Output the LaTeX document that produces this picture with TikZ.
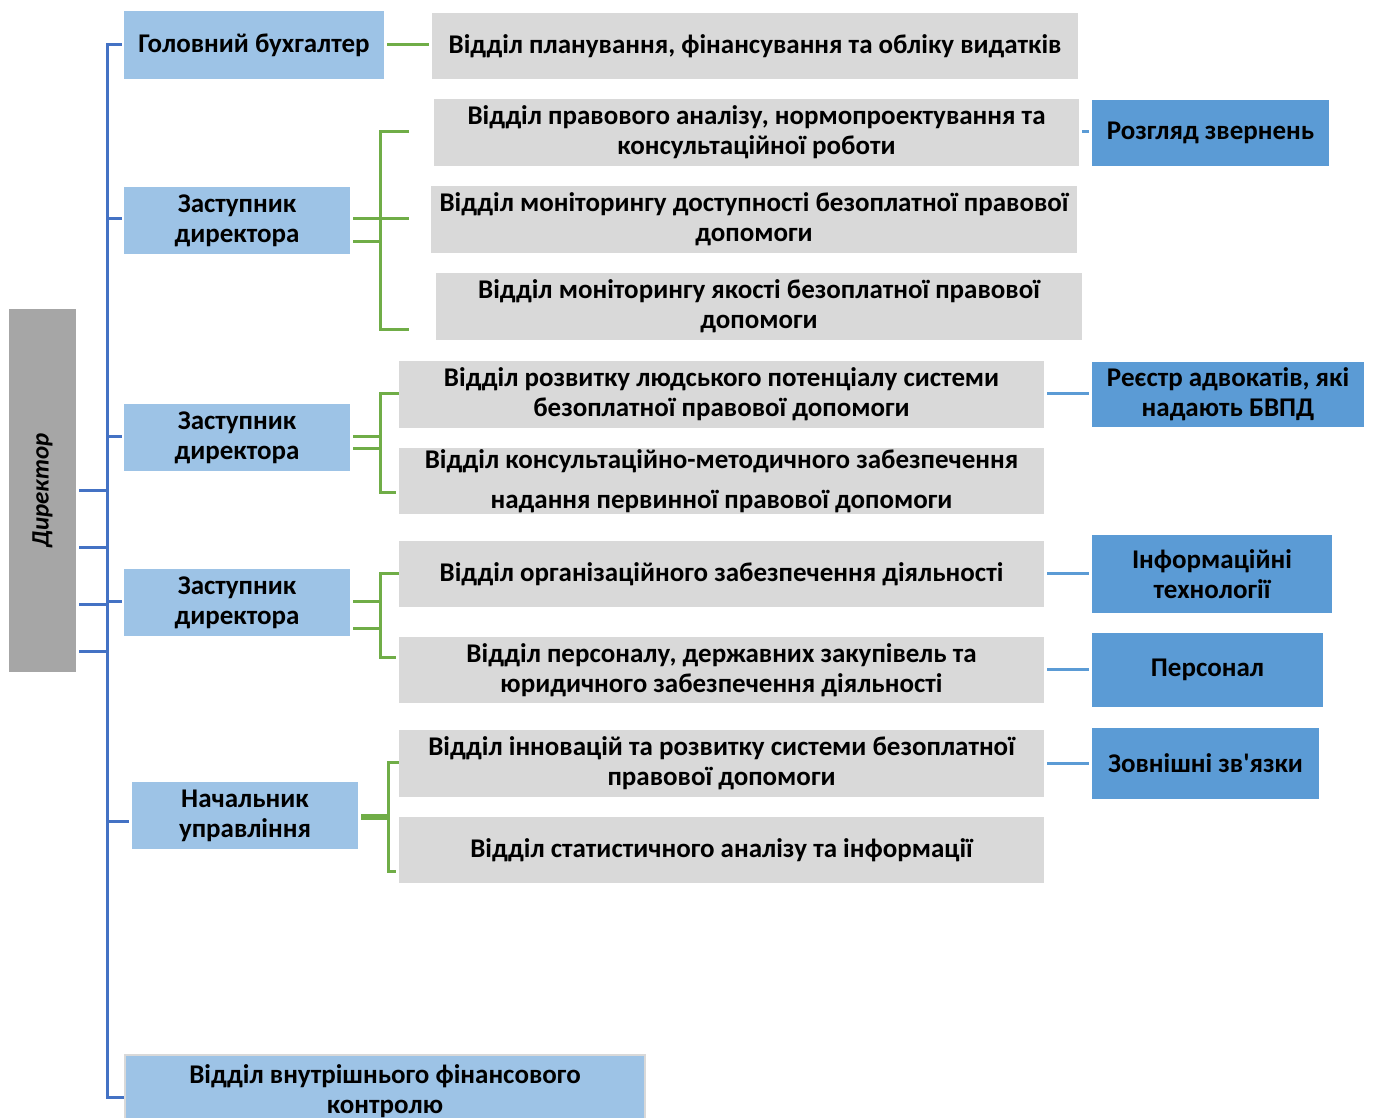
\documentclass[tikz,border=0pt]{standalone}
\usepackage{fontspec}
\setmainfont{Carlito}
\definecolor{trunkblue}{HTML}{4472C4}
\definecolor{grn}{HTML}{70AD47}
\definecolor{lblue}{HTML}{9DC3E6}
\definecolor{mblue}{HTML}{5B9BD5}
\definecolor{lgray}{HTML}{D9D9D9}
\definecolor{dgray}{HTML}{A6A6A6}
\begin{document}
\begin{tikzpicture}[x=1pt,y=-1pt,
  box/.style={rectangle,inner sep=0pt,align=center,font=\fontsize{27}{30}\selectfont\bfseries,text=black},
  lvl/.style={box,fill=lblue},
  dept/.style={box,fill=lgray},
  func/.style={box,fill=mblue},
  trunk/.style={draw=trunkblue,line width=3pt,line join=miter},
  gline/.style={draw=grn,line width=3pt},
  bline/.style={draw=mblue,line width=3pt,shorten <=3pt,shorten >=3pt}]
\clip (0,0) rectangle (1374,1118);
\fill[white] (0,0) rectangle (1374,1118);
% director
\node[box,fill=dgray,minimum width=67pt,minimum height=363pt] (dir) at (42.5,490.5) {};
\node[box,rotate=90,font=\fontsize{25}{30}\selectfont\bfseries\itshape] (dirt) at (dir.center) {Директор};
% level 2
\node[lvl,minimum width=260pt,minimum height=68pt] (gb) at (254,45) {Головний бухгалтер};
\node[lvl,minimum width=226pt,minimum height=67pt] (z1) at (237,220.5) {Заступник\\директора};
\node[lvl,minimum width=226pt,minimum height=67pt] (z2) at (237,437.5) {Заступник\\директора};
\node[lvl,minimum width=226pt,minimum height=67pt] (z3) at (237,602.5) {Заступник\\директора};
\node[lvl,minimum width=226pt,minimum height=67pt] (nu) at (245,815.5) {Начальник\\управління};
\node[lvl,draw=lgray,line width=2pt,minimum width=520pt,minimum height=72pt] (vv) at (385,1091) {Відділ внутрішнього фінансового\\контролю};
% departments
\node[dept,minimum width=646pt,minimum height=66pt] (d1) at (755,46) {Відділ планування, фінансування та обліку видатків};
\node[dept,minimum width=645pt,minimum height=67pt] (d2) at (756.5,132.5) {Відділ правового аналізу, нормопроектування та\\консультаційної роботи};
\node[dept,minimum width=646pt,minimum height=67pt] (d3) at (754,219.5) {Відділ моніторингу доступності безоплатної правової\\допомоги};
\node[dept,minimum width=646pt,minimum height=67pt] (d4) at (759,306.5) {Відділ моніторингу якості безоплатної правової\\допомоги};
\node[dept,minimum width=645pt,minimum height=67pt] (d5) at (721.5,394.5) {Відділ розвитку людського потенціалу системи\\безоплатної правової допомоги};
\node[dept,minimum width=645pt,minimum height=66pt] (d6) at (721.5,481) {Відділ консультаційно-методичного забезпечення\\[10pt]надання первинної правової допомоги};
\node[dept,minimum width=645pt,minimum height=66pt] (d7) at (721.5,574) {Відділ організаційного забезпечення діяльності};
\node[dept,minimum width=645pt,minimum height=66pt] (d8) at (721.5,670) {Відділ персоналу, державних закупівель та\\юридичного забезпечення діяльності};
\node[dept,minimum width=645pt,minimum height=67pt] (d9) at (721.5,763.5) {Відділ інновацій та розвитку системи безоплатної\\правової допомоги};
\node[dept,minimum width=645pt,minimum height=66pt] (d10) at (721.5,850) {Відділ статистичного аналізу та інформації};
% functions
\node[func,minimum width=237pt,minimum height=66pt] (r1) at (1210.5,133) {Розгляд звернень};
\node[func,minimum width=272pt,minimum height=65pt] (r2) at (1228,394.5) {Реєстр адвокатів, які\\надають БВПД};
\node[func,minimum width=240pt,minimum height=78pt] (r3) at (1212,574) {Інформаційні\\технології};
\node[func,minimum width=231pt,minimum height=74pt] (r4) at (1207.5,670) {Персонал};
\node[func,minimum width=227pt,minimum height=71pt] (r5) at (1205.5,763.5) {Зовнішні зв\textquotesingle язки};
% trunk
\coordinate (ttop) at (107,45);
\coordinate (tbot) at (107,1097);
\draw[trunk,shorten <=2pt] (gb.west |- ttop) -- (ttop) -- (tbot) -- (vv.west |- tbot);
\draw[trunk,shorten >=2pt] (ttop |- 0,219) -- (z1.west |- 0,219);
\draw[trunk,shorten >=2pt] (ttop |- 0,436.5) -- (z2.west |- 0,436.5);
\draw[trunk,shorten >=2pt] (ttop |- 0,601.5) -- (z3.west |- 0,601.5);
\draw[trunk,shorten >=3pt] (107,821) -- (nu.west |- 0,821);
\foreach \yy in {490.5,547,604,651}
  \draw[trunk,shorten <=3pt] (dir.east |- 0,\yy) -- (107,\yy);
% green: chief accountant
\draw[gline,shorten <=3pt,shorten >=3pt] (gb.east |- 0,45) -- (d1.west |- 0,45);
% group 1
\coordinate (b1t) at (380,132);
\coordinate (b1b) at (380,329);
\draw[gline] (b1t) ++(29,0) -- (b1t) -- (b1b) -- ++(29,0);
\draw[gline] (380,219) -- ++(29,0);
\draw[gline,shorten <=3pt] (z1.east |- 0,219) -- (380,219);
\draw[gline,shorten <=3pt] (z1.east |- 0,242) -- (380,242);
% group 2
\coordinate (b2t) at (380,393);
\coordinate (b2b) at (380,492);
\draw[gline,shorten >=3pt] (d5.west |- b2t) -- (b2t) -- (b2b) -- (d6.west |- b2b);
\draw[gline,shorten <=3pt] (z2.east |- 0,436.5) -- (380,436.5);
\draw[gline,shorten <=3pt] (z2.east |- 0,448) -- (380,448);
% group 3
\coordinate (b3t) at (380,573);
\coordinate (b3b) at (380,657);
\draw[gline,shorten >=3pt] (d7.west |- b3t) -- (b3t) -- (b3b) -- (d8.west |- b3b);
\draw[gline,shorten <=3pt] (z3.east |- 0,601.5) -- (380,601.5);
\draw[gline,shorten <=3pt] (z3.east |- 0,628) -- (380,628);
% group 4
\coordinate (b4t) at (388,762);
\coordinate (b4b) at (388,871);
\draw[gline,shorten >=3pt] (d9.west |- b4t) -- (b4t) -- (b4b) -- (d10.west |- b4b);
\draw[gline,shorten <=3pt] (nu.east |- 0,815) -- (388,815);
\draw[gline,shorten <=3pt] (nu.east |- 0,818) -- (388,818);
% right connectors
\draw[bline] (d2.east |- 0,132) -- (r1.west |- 0,132);
\draw[bline] (d5.east |- 0,393) -- (r2.west |- 0,393);
\draw[bline] (d7.east |- 0,573) -- (r3.west |- 0,573);
\draw[bline] (d8.east |- 0,669) -- (r4.west |- 0,669);
\draw[bline] (d9.east |- 0,763) -- (r5.west |- 0,763);
\end{tikzpicture}
\end{document}
